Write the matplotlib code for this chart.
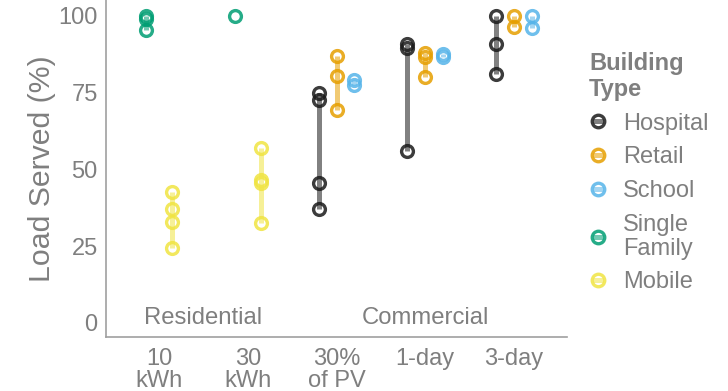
import numpy as np
import matplotlib
matplotlib.use("Agg")
import matplotlib.pyplot as plt
from matplotlib.lines import Line2D
from matplotlib.legend_handler import HandlerTuple

# % data

categories = ["10\nkWh", "30\nkWh", "30%\nof PV", "1-day", "3-day"]
types = ["Hospital", "Retail", "School", "Single\nFamily", "Mobile"]
colors = ["#1a1a1a", "#E69F00", "#56B4E9", "#009E73", "#F0E442"]

# one list of load-served values per storage case (empty where not modelled)
hospital = [[], [], [75, 72.5, 45.5, 37], [91, 89.5, 56], [100, 91, 81]]
retail = [[], [], [87, 80.5, 69.5], [88, 86.5, 80], [100, 96.5]]
school = [[], [], [79, 77.5], [87.5, 86.5], [100, 96]]
single_family = [[100, 99, 95.5], [100], [], [], []]
mobile = [[42.5, 37, 33, 24.5], [57, 46.5, 45.5, 32.5], [], [], []]

series = [hospital, retail, school, single_family, mobile]

group_labels = ["Residential", "Commercial"]
group_x = [0.5, 3.0]

dodge = 0.6
grey = "#7f7f7f"

# %%

plt.rcParams["font.family"] = ["Liberation Sans", "DejaVu Sans"]

fig = plt.figure(figsize=(7.28, 3.91), dpi=100)
ax = fig.add_axes([106/728, 1-337/391, (567-106)/728, 337/391])

for c in range(len(categories)):
    present = [k for k in range(len(series)) if len(series[k][c]) > 0]
    n = len(present)
    for j, k in enumerate(present):
        x = c + (j - (n-1)/2) * dodge/n
        vals = np.array(series[k][c])
        ax.vlines(x, vals.min(), vals.max(), color=colors[k], alpha=0.55, lw=3.6, zorder=2)
        ax.plot(np.full(len(vals), x), vals, "o", mfc="none", mec=colors[k],
                ms=8.5, mew=2.4, alpha=0.85, zorder=3)

for lab, gx in zip(group_labels, group_x):
    ax.text(gx, 1.5, lab, ha="center", va="center", fontsize=17.2, color=grey)

ax.set_xlim(-0.6, 4.6)
ax.set_ylim(-4.6, 105.2)
ax.set_xticks(range(len(categories)))
ax.set_xticklabels(categories, linespacing=1.0)
ax.set_yticks([0, 25, 50, 75, 100])
ax.tick_params(length=0, labelsize=17, labelcolor=grey)
ax.tick_params(axis="x", pad=8)
ax.tick_params(axis="y", pad=6)
ax.set_ylabel("Load Served (%)", fontsize=21.8, color=grey, labelpad=2)
for s in ["top", "right"]:
    ax.spines[s].set_visible(False)
for s in ["left", "bottom"]:
    ax.spines[s].set_color("#a0a0a0")
    ax.spines[s].set_linewidth(1.2)

handles = []
for k in range(len(types)):
    ring = Line2D([], [], ls="none", marker="o", mfc="none", mec=colors[k], ms=9, mew=2.4, alpha=0.85)
    dash = Line2D([], [], ls="none", marker="_", mec=colors[k], ms=7, mew=3.6, alpha=0.55)
    handles.append((dash, ring))
leg = fig.legend(handles, types, title="Building\nType", loc="upper left",
                 bbox_to_anchor=(589/728, 1-52/391), frameon=False, fontsize=17,
                 title_fontproperties={"weight": "bold", "size": 17},
                 handler_map={tuple: HandlerTuple(ndivide=1)},
                 handlelength=0.75, handletextpad=0.7, labelspacing=0.5,
                 alignment="left", borderpad=0, borderaxespad=0)
leg.get_title().set_color(grey)
leg.get_title().set_linespacing(1.15)
for t in leg.get_texts():
    t.set_color(grey)
    t.set_linespacing(1.1)

fig.savefig("out.png", dpi=100)
